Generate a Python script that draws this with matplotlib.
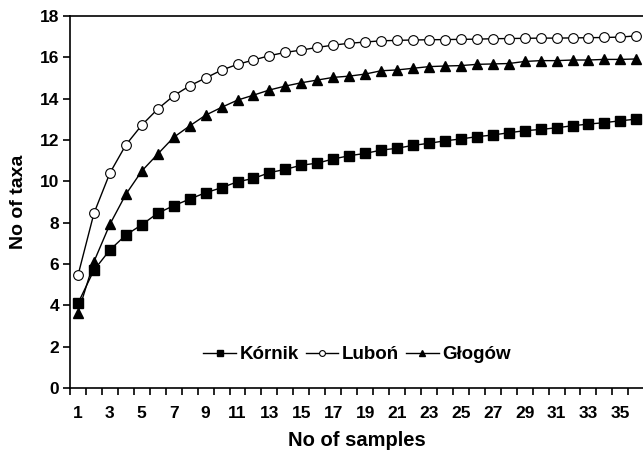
import matplotlib
matplotlib.use("Agg")
import matplotlib.pyplot as plt
import numpy as np

samples = list(range(1, 37))
kornik = [4.1, 5.7, 6.68, 7.4, 7.9, 8.46, 8.82, 9.14, 9.45, 9.69, 9.98, 10.14,
          10.42, 10.58, 10.78, 10.88, 11.08, 11.24, 11.35, 11.51, 11.6, 11.74,
          11.84, 11.96, 12.05, 12.16, 12.24, 12.35, 12.45, 12.51, 12.59, 12.69,
          12.77, 12.84, 12.93, 13.01]
lubon = [5.45, 8.45, 10.4, 11.76, 12.72, 13.5, 14.14, 14.62, 15.0, 15.38, 15.66,
         15.87, 16.08, 16.24, 16.35, 16.48, 16.59, 16.68, 16.74, 16.8, 16.82,
         16.84, 16.85, 16.86, 16.87, 16.88, 16.9, 16.91, 16.92, 16.93, 16.93,
         16.94, 16.95, 16.96, 16.98, 17.04]
glogow = [3.63, 6.11, 7.92, 9.37, 10.5, 11.32, 12.13, 12.68, 13.2, 13.58, 13.93,
          14.17, 14.42, 14.61, 14.77, 14.9, 15.03, 15.09, 15.19, 15.35, 15.39,
          15.47, 15.55, 15.58, 15.6, 15.66, 15.68, 15.7, 15.8, 15.84, 15.84,
          15.87, 15.87, 15.9, 15.9, 15.92]
labels = ["Kórnik", "Luboń", "Głogów"]
xticklabels = [str(i) for i in range(1, 37, 2)]

plt.rcParams['font.family'] = ['Liberation Sans', 'DejaVu Sans']
plt.rcParams['font.weight'] = 'bold'

fig = plt.figure(figsize=(6.43, 4.54), dpi=100)
ax = fig.add_axes([70/643, 1-388/454, 1-70/643 + 0.002, (388-16)/454])

lw = 1.0
ax.plot(samples, kornik, color='black', lw=lw, marker='s', ms=7, mfc='black', mec='black', label=labels[0])
ax.plot(samples, lubon, color='black', lw=lw, marker='o', ms=7, mfc='white', mec='black', mew=0.8, label=labels[1])
ax.plot(samples, glogow, color='black', lw=lw, marker='^', ms=7.5, mfc='black', mec='black', label=labels[2])

ax.set_xlim(0.5, 36.5)
ax.set_ylim(0, 18)
ax.set_yticks(np.arange(0, 19, 2))
ax.set_xticks(range(1, 37, 2))
ax.set_xticklabels(xticklabels)
ax.set_xticks(np.arange(0.5, 37, 1), minor=True)
ax.tick_params(axis='x', which='major', length=0, pad=13, labelsize=12.5)
ax.tick_params(axis='x', which='minor', length=5, width=1.2, direction='out')
ax.tick_params(axis='y', length=5, width=1.2, direction='out', labelsize=12.5, pad=3)
for lab in ax.get_xticklabels() + ax.get_yticklabels():
    lab.set_fontweight('bold')

for s in ['left', 'bottom', 'top', 'right']:
    ax.spines[s].set_linewidth(1.2)

ax.set_xlabel("No of samples", fontsize=14.5, fontweight='bold', labelpad=7)
ax.set_ylabel("No of taxa", fontsize=14, fontweight='bold', labelpad=9)

leg = ax.legend(loc='center', bbox_to_anchor=(0.5, 0.089), ncol=3, frameon=False,
                fontsize=13.5, handlelength=1.75, columnspacing=0.35, handletextpad=0.2,
                markerscale=0.6)
for t in leg.get_texts():
    t.set_fontweight('bold')

fig.savefig("out.png", dpi=100)
